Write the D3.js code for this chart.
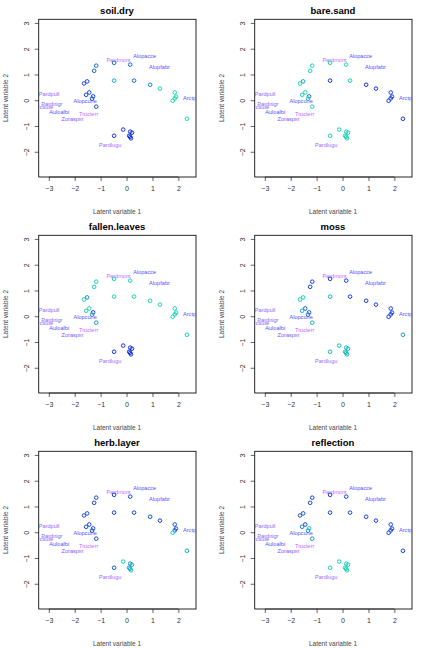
<!DOCTYPE html>
<html>
<head>
<meta charset="utf-8">
<script src="https://cdn.jsdelivr.net/npm/d3@7"></script>
<style>
  body { margin: 0; background: #fff; }
  text { font-family: 'Liberation Sans', Arial, sans-serif; }
</style>
</head>
<body>
<svg id="container" width="432" height="648"></svg>
<script>
const svg = d3.select('#container')

const panels = ['soil.dry', 'bare.sand', 'fallen.leaves', 'moss', 'herb.layer', 'reflection']

// site scores (latent variables)
const lv1 = [-1.17, -1.25, -0.48, 0.14, -0.48, 0.29, 0.91, 1.29, 1.86, 1.91, 1.86, 1.78, 2.33,
  -1.64, -1.52, -1.44, -1.56, -1.29, -1.33, -1.17, -0.13, -0.48, 0.14, 0.21, 0.1, 0.17, 0.14]
const lv2 = [1.36, 1.16, 1.47, 1.4, 0.78, 0.78, 0.62, 0.47, 0.32, 0.16, 0.09, 0.0, -0.7,
  0.67, 0.75, 0.32, 0.23, 0.17, 0.08, -0.23, -1.12, -1.36, -1.2, -1.24, -1.36, -1.46, -1.4]

// relative covariate value per site (0 = low/blue, 1 = high/green)
const covValues = [
  [0.3, 0.3, 0.3, 0.3, 0.6, 0.3, 0.4, 0.9, 0.9, 0.9, 0.9, 0.9, 0.95, 0.15, 0.15, 0.15, 0.15, 0.15, 0.15, 0.15, 0.05, 0.05, 0.05, 0.05, 0.05, 0.05, 0.05],
  [0.9, 0.9, 0.9, 0.9, 0.05, 0.8, 0.05, 0.05, 0.1, 0.1, 0.1, 0.1, 0.05, 0.85, 0.5, 0.85, 0.85, 0.3, 0.8, 0.9, 0.85, 0.85, 0.85, 0.85, 0.85, 0.85, 0.85],
  [0.85, 0.85, 0.85, 0.85, 0.85, 0.85, 0.85, 0.85, 0.85, 0.85, 0.85, 0.85, 0.85, 0.85, 0.45, 0.85, 0.85, 0.1, 0.6, 0.5, 0.05, 0.05, 0.05, 0.05, 0.05, 0.05, 0.05],
  [0.1, 0.1, 0.1, 0.1, 0.6, 0.1, 0.1, 0.1, 0.1, 0.1, 0.1, 0.1, 0.5, 0.8, 0.8, 0.2, 0.7, 0.3, 0.3, 0.7, 0.7, 0.7, 0.7, 0.7, 0.7, 0.7, 0.7],
  [0.15, 0.15, 0.1, 0.15, 0.1, 0.15, 0.2, 0.1, 0.15, 0.2, 0.2, 0.8, 0.6, 0.15, 0.2, 0.1, 0.15, 0.2, 0.15, 0.15, 0.85, 0.2, 0.4, 0.6, 0.5, 0.8, 0.6],
  [0.1, 0.15, 0.1, 0.15, 0.1, 0.15, 0.15, 0.1, 0.15, 0.1, 0.15, 0.15, 0.1, 0.2, 0.2, 0.1, 0.4, 0.8, 0.5, 0.45, 0.85, 0.85, 0.85, 0.85, 0.85, 0.85, 0.85]
]

// species scores
const species = ['Pardpull', 'Pardnigr', 'Arctlute', 'Auloalbi', 'Zoraspin', 'Alopcune', 'Trocterr', 'Pardmont', 'Alopacce', 'Alopfabr', 'Arctperi', 'Pardlugu']
const sp1 = [-2.99, -2.88, -3.2, -2.6, -2.09, -1.6, -1.46, -0.31, 0.7, 1.27, 2.55, -0.63]
const sp2 = [0.27, -0.12, -0.23, -0.43, -0.7, -0.01, -0.5, 1.59, 1.74, 1.32, 0.12, -1.71]
const spColor = ['#9064ff', '#8060ff', '#8060ff', '#5a4cff', '#7a56ff', '#5a4cff', '#b86cff', '#b86cff', '#5a4cff', '#5a4cff', '#5a4cff', '#9a6aff']

const xTicks = [-3, -2, -1, 0, 1, 2]
const yTicks = [-2, -1, 0, 1, 2, 3]

const colorScale = d3.scaleLinear().domain([0, 0.5, 1]).range(['#0010e0', '#0090c0', '#00eaa0'])

const pw = 216, ph = 216
const x = d3.scaleLinear().domain([-3.39, 2.68]).range([38.7, 196])
const y = d3.scaleLinear().domain([-2.96, 3.16]).range([177, 19.3])

panels.forEach((name, p) => {
  const g = svg.append('g')
    .attr('transform', `translate(${(p % 2) * pw}, ${Math.floor(p / 2) * ph})`)

  g.append('clipPath').attr('id', 'clip' + p)
    .append('rect')
    .attr('x', x.range()[0]).attr('y', y.range()[1])
    .attr('width', x.range()[1] - x.range()[0]).attr('height', y.range()[0] - y.range()[1])

  g.append('text').attr('x', 117).attr('y', 14).attr('text-anchor', 'middle')
    .attr('font-size', 9.5).attr('font-weight', 'bold').text(name)

  const xAxis = d3.axisBottom(x).tickValues(xTicks).tickSize(4).tickPadding(5).tickFormat(d3.format('d'))
  const xg = g.append('g').attr('transform', `translate(0, ${y.range()[0]})`).call(xAxis)
  const yAxis = d3.axisLeft(y).tickValues(yTicks).tickSize(4).tickPadding(5).tickFormat(d3.format('d'))
  const yg = g.append('g').attr('transform', `translate(${x.range()[0]}, 0)`).call(yAxis)
  ;[xg, yg].forEach((a) => {
    a.select('.domain').remove()
    a.selectAll('line').attr('stroke', '#222').attr('stroke-width', 0.7)
    a.selectAll('text').attr('font-size', 7).attr('fill', '#333').attr('font-family', "'Liberation Sans', Arial, sans-serif")
  })
  // rotate y tick labels like R's default
  yg.selectAll('.tick').attr('transform', 'translate(0,0)')
  yg.selectAll('.tick line').attr('y1', (d) => y(d)).attr('y2', (d) => y(d))
  yg.selectAll('text').attr('text-anchor', 'middle').attr('dy', 0).attr('x', 0).attr('y', 0)
    .attr('transform', (d) => `translate(-10, ${y(d)}) rotate(-90)`)
  g.append('line').attr('x1', x(-3)).attr('x2', x(2)).attr('y1', y.range()[0]).attr('y2', y.range()[0])
    .attr('stroke', '#222').attr('stroke-width', 0.7)

  g.append('rect')
    .attr('x', x.range()[0]).attr('y', y.range()[1])
    .attr('width', x.range()[1] - x.range()[0]).attr('height', y.range()[0] - y.range()[1])
    .attr('fill', 'none').attr('stroke', '#111').attr('stroke-width', 0.9)

  g.append('text').attr('x', 117).attr('y', 214).attr('text-anchor', 'middle')
    .attr('font-size', 6.5).attr('fill', '#444').text('Latent variable 1')
  g.append('text').attr('transform', 'translate(8, 98) rotate(-90)').attr('text-anchor', 'middle')
    .attr('font-size', 6.5).attr('fill', '#444').text('Latent variable 2')

  const inner = g.append('g').attr('clip-path', `url(#clip${p})`)

  inner.selectAll('text.sp').data(species).enter().append('text')
    .attr('class', 'sp')
    .attr('x', (d, i) => x(sp1[i])).attr('y', (d, i) => y(sp2[i]) + 2)
    .attr('text-anchor', 'middle').attr('font-size', 5.6)
    .attr('fill', (d, i) => spColor[i]).text((d) => d)

  inner.selectAll('circle').data(lv1).enter().append('circle')
    .attr('cx', (d) => x(d)).attr('cy', (d, i) => y(lv2[i])).attr('r', 1.8)
    .attr('fill', 'none').attr('stroke-width', 0.9)
    .attr('stroke', (d, i) => colorScale(covValues[p][i]))
})
</script>
</body>
</html>
